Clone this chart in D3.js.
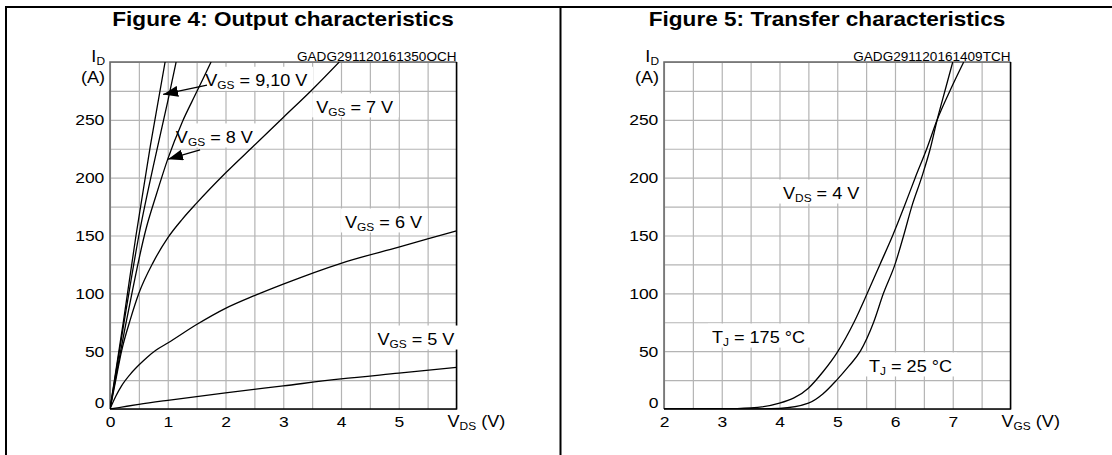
<!DOCTYPE html>
<html>
<head>
<meta charset="utf-8">
<script src="https://cdn.jsdelivr.net/npm/d3@7"></script>
<style>
  body { margin: 0; background: #fff; }
  svg { display: block; font-family: Arial, "Liberation Sans", sans-serif; }
</style>
</head>
<body>
<svg id="chart"></svg>
<script>
/* ---- data ---- */
const vdsTicks = [0, 1, 2, 3, 4, 5]
const vgsTicks = [2, 3, 4, 5, 6, 7]
const idTicks = [0, 50, 100, 150, 200, 250]

// Figure 4 : ID (A) vs VDS (V)
const vgs10 = [[0,0],[0.23,75],[0.45,150],[0.7,228],[0.954,300]]
const vgs9  = [[0,0],[0.25,77],[0.5,150],[0.75,210],[1.0,266],[1.145,300]]
const vgs8  = [[0,0],[0.3,80],[0.62,155],[0.8,185],[1.0,216],[1.25,248],[1.5,274],[1.75,300]]
const vgs7  = [[0,0],[0.1,25],[0.2,50],[0.35,77],[0.5,100],[0.75,127],[1,148],[1.25,164],[1.5,178],[2,204],[2.5,228],[3,252],[3.5,276],[3.97,300]]
const vgs6  = [[0,0],[0.1,11],[0.2,20],[0.35,30],[0.5,38],[0.65,45],[0.8,51],[1,57],[1.5,73],[2,87],[2.5,98],[3,108],[4,126],[5,140],[6,154]]
const vgs5  = [[0,0],[0.5,4],[1,7.5],[2,14],[3,20],[4,26],[5,31],[6,36]]

// Figure 5 : ID (A) vs VGS (V)
const tj175 = [[2,0],[3,0.2],[3.5,1],[4,5],[4.5,18],[4.75,32],[5,49],[5.29,75],[5.52,100],[5.74,125],[5.96,150],[6.16,175],[6.35,200],[6.55,225],[6.73,250],[6.96,276],[7.19,300]]
const tj25  = [[2,0],[3,0],[3.5,0],[4,0.5],[4.5,5],[4.75,13],[4.99,25],[5.2,37],[5.4,50],[5.63,75],[5.8,100],[6.0,125],[6.15,150],[6.29,175],[6.46,200],[6.61,225],[6.73,250],[6.87,276],[7.0,300]]

/* ---- page ---- */
const width = 1112, height = 455
const SX = 1.13   // the scan is a bit wider than tall

const svg = d3.select('#chart').attr('width', width).attr('height', height)

svg.append('defs').append('marker')
   .attr('id', 'arrow')
   .attr('markerUnits', 'userSpaceOnUse')
   .attr('markerWidth', 15).attr('markerHeight', 11)
   .attr('refX', 15).attr('refY', 5.5)
   .attr('orient', 'auto')
   .append('path').attr('d', 'M0,0 L15,5.5 L0,11 Z').attr('fill', '#000')

/* texte étiré avec indices (parties '_xx' en indice) */
const addText = (layer, x, y, parts, size, opts = {}) => {
    const tr = `translate(${x},${y}) scale(${SX},1)`
    const g = layer.append('g').attr('transform', tr)
    const t = g.append('text')
               .attr('font-size', size)
               .attr('font-weight', opts.bold ? 'bold' : null)
               .attr('text-anchor', opts.anchor || 'start')
    const sh = size * 0.18
    let down = false
    parts.forEach(p => {
        const sub = p.startsWith('_')
        const ts = t.append('tspan').text(sub ? p.slice(1) : p)
        if (sub) ts.attr('font-size', size * 0.66).attr('dy', down ? 0 : sh)
        else if (down) ts.attr('dy', -sh)
        down = sub
    })
    if (opts.box) {
        const bb = t.node().getBBox()
        opts.box.append('rect')
           .attr('transform', tr)
           .attr('x', bb.x - 4 / SX).attr('y', -size * 1.22)
           .attr('width', bb.width + 9 / SX).attr('height', size * 1.5)
           .attr('fill', '#fff')
    }
}

/* cadre du tableau */
const frame = svg.append('g').attr('stroke', '#000').attr('stroke-width', 2)
frame.append('line').attr('x1', 5).attr('x2', width).attr('y1', 7).attr('y2', 7)
frame.append('line').attr('x1', 6).attr('x2', 6).attr('y1', 6).attr('y2', height)
frame.append('line').attr('x1', 560.5).attr('x2', 560.5).attr('y1', 6).attr('y2', height)

addText(svg, 283, 26, ['Figure 4: Output characteristics'], 20, {bold: true, anchor: 'middle'})
addText(svg, 827, 26, ['Figure 5: Transfer characteristics'], 20, {bold: true, anchor: 'middle'})

/* un panneau de graphique */
const drawPanel = (cfg) => {
    const top = 62, bottom = 409
    const xScale = d3.scaleLinear().domain(cfg.xDomain).range([cfg.left, cfg.left + 346.5])
    const yScale = d3.scaleLinear().domain([0, 300]).range([bottom, top])
    const g = svg.append('g')

    // grille
    const xGrid = d3.range(cfg.xDomain[0], cfg.xDomain[1] + 0.01, 0.5)
    const yGrid = d3.range(0, 300.1, 25)
    g.append('g')
     .attr('transform', `translate(0,${bottom})`)
     .call(d3.axisBottom(xScale).tickValues(xGrid).tickSize(-(bottom - top)).tickFormat(''))
     .call(a => a.select('.domain').remove())
     .call(a => a.selectAll('line').attr('stroke', '#b4b4b4').attr('stroke-width', 1.2))
    g.append('g')
     .attr('transform', `translate(${cfg.left},0)`)
     .call(d3.axisLeft(yScale).tickValues(yGrid).tickSize(-346.5).tickFormat(''))
     .call(a => a.select('.domain').remove())
     .call(a => a.selectAll('line').attr('stroke', '#b4b4b4').attr('stroke-width', 1.2))

    // étiquettes des axes
    g.append('g')
     .attr('transform', `translate(0,${bottom})`)
     .call(d3.axisBottom(xScale).tickValues(cfg.xTicks).tickSize(0).tickPadding(7).tickFormat(d3.format('d')))
     .call(a => a.select('.domain').remove())
     .call(a => a.selectAll('text').attr('font-size', 15.5).attr('fill', '#000')
                  .attr('font-family', null).attr('transform', `scale(${SX},1)`))
    g.append('g')
     .attr('transform', `translate(${cfg.left},0)`)
     .call(d3.axisLeft(yScale).tickValues(idTicks).tickSize(0).tickPadding(5))
     .call(a => a.select('.domain').remove())
     .call(a => a.selectAll('text').attr('font-size', 15.5).attr('fill', '#000')
                  .attr('font-family', null).attr('transform', `scale(${SX},1)`))
     .call(a => a.selectAll('.tick').filter(d => d === 0).select('text').attr('dy', '-0.1em'))

    // cadre du graphe
    const x0 = xScale.range()[0], x1 = xScale.range()[1]
    g.append('path').attr('d', `M${x0},${bottom}V${top}H${x1}`).attr('fill', 'none')
     .attr('stroke', '#666').attr('stroke-width', 1.5)
    g.append('path').attr('d', `M${x0},${bottom}H${x1}V${top}`).attr('fill', 'none')
     .attr('stroke', '#000').attr('stroke-width', 1.5)

    // fonds blancs des étiquettes, puis courbes
    const boxes = g.append('g')
    const clipId = 'clip' + cfg.left
    g.append('clipPath').attr('id', clipId).append('rect')
     .attr('x', x0).attr('y', top).attr('width', x1 - x0).attr('height', bottom - top)
    const line = d3.line().x(d => xScale(d[0])).y(d => yScale(d[1])).curve(d3.curveMonotoneX)
    g.append('g').attr('clip-path', `url(#${clipId})`)
     .selectAll('path').data(cfg.series).enter().append('path')
     .attr('d', line).attr('fill', 'none').attr('stroke', '#000').attr('stroke-width', 1.3)

    const texts = g.append('g')
    cfg.labels.forEach(l => addText(texts, xScale(l.at[0]), yScale(l.at[1]), l.parts, 16, {box: boxes}))
    cfg.arrows.forEach(a => {
        g.append('line')
         .attr('x1', xScale(a.from[0])).attr('y1', yScale(a.from[1]))
         .attr('x2', xScale(a.to[0])).attr('y2', yScale(a.to[1]))
         .attr('stroke', '#000').attr('stroke-width', 1.3)
         .attr('marker-end', 'url(#arrow)')
    })

    // titres des axes et code
    addText(g, x0 - 5, top, ['I', '_D'], 16, {anchor: 'end'})
    addText(g, x0 - 5, top + 21, ['(A)'], 16, {anchor: 'end'})
    addText(g, x1 - 9, 427, cfg.xTitle, 16)
    addText(g, x1, top - 1, [cfg.code], 12, {anchor: 'end'})
}

drawPanel({
    left: 110, xDomain: [0, 6], xTicks: vdsTicks,
    series: [vgs10, vgs9, vgs8, vgs7, vgs6, vgs5],
    code: 'GADG291120161350OCH',
    xTitle: ['V', '_DS', ' (V)'],
    labels: [
        {at: [1.65, 279], parts: ['V', '_GS', ' = 9,10 V']},
        {at: [1.14, 230], parts: ['V', '_GS', ' = 8 V']},
        {at: [3.57, 256], parts: ['V', '_GS', ' = 7 V']},
        {at: [4.07, 156.5], parts: ['V', '_GS', ' = 6 V']},
        {at: [4.63, 55.3], parts: ['V', '_GS', ' = 5 V']}
    ],
    arrows: [
        {from: [1.68, 280], to: [0.92, 272]},
        {from: [1.56, 224], to: [1.005, 216]}
    ]
})

drawPanel({
    left: 664, xDomain: [2, 8], xTicks: vgsTicks,
    series: [tj175, tj25],
    code: 'GADG291120161409TCH',
    xTitle: ['V', '_GS', ' (V)'],
    labels: [
        {at: [4.06, 181.5], parts: ['V', '_DS', ' = 4 V']},
        {at: [2.83, 57], parts: ['T', '_J', ' = 175 °C']},
        {at: [5.55, 32], parts: ['T', '_J', ' = 25 °C']}
    ],
    arrows: []
})
</script>
</body>
</html>
